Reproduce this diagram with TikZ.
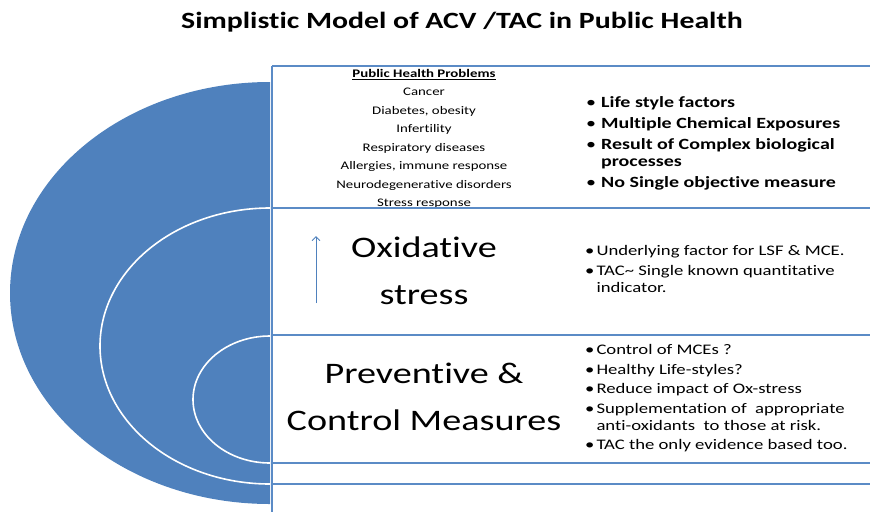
\documentclass[tikz,border=0pt]{standalone}
\usepackage{fontspec}
\setmainfont{Carlito}[FakeStretch=1.28,Ligatures=NoCommon]
\usetikzlibrary{positioning,arrows.meta}
\definecolor{ovalblue}{HTML}{4F81BD}
\definecolor{ruleblue}{HTML}{5B8BC6}

\begin{document}
\begin{tikzpicture}[x=1pt,y=-1pt,
    sep/.style={draw=ruleblue,line width=1.8pt},
    ring/.style={draw=white,line width=1.6pt},
    head/.style={font=\fontsize{29.8}{47}\selectfont,align=center,inner sep=0pt},
    pts/.style={anchor=west,align=left,inner sep=0pt}]
  \useasboundingbox (0,0) rectangle (870,512);

  % title
  \node[font=\bfseries\fontsize{23.3}{25}\selectfont] (title) at (462,22)
    {Simplistic Model of ACV /TAC in Public Health};

  % nested half ovals
  \fill[ovalblue] (270,82) arc[start angle=90,end angle=270,x radius=260pt,y radius=211pt] -- cycle;
  \draw[ring] (270,208) arc[start angle=90,end angle=270,x radius=170pt,y radius=138pt];
  \draw[ring] (270,336) arc[start angle=90,end angle=270,x radius=77pt,y radius=63.5pt];

  % top band: problems
  \node[font=\fontsize{11.6}{18.5}\selectfont,align=center,inner sep=0pt] (php) at (424,139)
    {\textbf{\underline{Public Health Problems}}\\Cancer\\Diabetes, obesity\\Infertility\\
     Respiratory diseases\\Allergies, immune response\\Neurodegenerative disorders\\Stress response};
  \node[pts,font=\bfseries\fontsize{15.6}{17}\selectfont] (risk) at (586,144)
    {\begin{tabular}{@{}l@{\hspace{5pt}}l@{}}
      {\mdseries\textbullet} & Life style factors\\[4pt]
      {\mdseries\textbullet} & Multiple Chemical Exposures\\[4pt]
      {\mdseries\textbullet} & Result of Complex biological\\
                  & processes\\[4pt]
      {\mdseries\textbullet} & No Single objective measure
     \end{tabular}};

  % middle band: oxidative stress
  \node[head] (ox) at (424,271) {Oxidative\\stress};
  \coordinate (up0) at (316,303);
  \coordinate (up1) at (316,236);
  \draw[-{Straight Barb[length=4pt,width=8pt]},ovalblue,line width=0.9pt] (up0) -- (up1);
  \node[pts,font=\fontsize{14.6}{17}\selectfont] (oxpts) at (585,271)
    {\begin{tabular}{@{}l@{\hspace{2pt}}l@{}}
      \textbullet & Underlying factor for LSF \& MCE.\\[3pt]
      \textbullet & TAC\textasciitilde{} Single known quantitative\\
                  & indicator.
     \end{tabular}};

  % bottom band: measures
  \node[head] (pcm) at (424,397) {Preventive \&\\Control Measures};
  \node[pts,font=\fontsize{14.6}{17}\selectfont] (pcmpts) at (585,399)
    {\begin{tabular}{@{}l@{\hspace{2pt}}l@{}}
      \textbullet & Control of MCEs ?\\[2.5pt]
      \textbullet & Healthy Life-styles?\\[2.5pt]
      \textbullet & Reduce impact of Ox-stress\\[2.5pt]
      \textbullet & Supplementation of~ appropriate\\
                  & anti-oxidants~ to those at risk.\\[2.5pt]
      \textbullet & TAC the only evidence based too.
     \end{tabular}};

  % band rules
  \draw[sep] (272,66) -- (870,66);
  \foreach \y in {208,335,463,484}
    \draw[sep] (272,\y) -- (870,\y);
  \draw[sep] (272,66) -- (272,512);
\end{tikzpicture}
\end{document}
